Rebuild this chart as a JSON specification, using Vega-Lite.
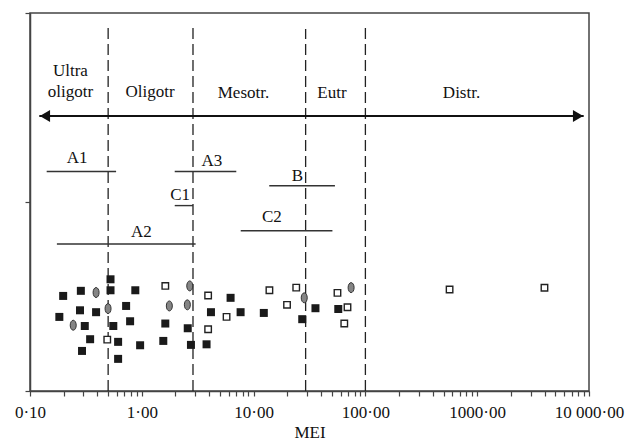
{
  "$schema": "https://vega.github.io/schema/vega-lite/v6.json",
  "width": 559,
  "height": 378,
  "autosize": {"type": "none"},
  "padding": {"left": 30, "top": 13, "right": 36, "bottom": 51},
  "background": "white",
  "config": {
    "view": {"stroke": "#444", "strokeWidth": 1.5},
    "axis": {"grid": false},
    "font": "Liberation Serif"
  },
  "datasets": {
    "zones": [
      {"mei": 0.5, "y": 0, "y2": 1.926},
      {"mei": 2.87, "y": 0, "y2": 1.947},
      {"mei": 29.2, "y": 0, "y2": 1.915},
      {"mei": 100, "y": 0, "y2": 1.926}
    ],
    "arrow": [
      {"mei": 0.1211, "mei2": 8965, "y": 1.455}
    ],
    "heads": [
      {"mei": 0.1361, "y": 1.455, "end": "left"},
      {"mei": 7980, "y": 1.455, "end": "right"}
    ],
    "ranges": [
      {"name": "A1", "mei": 0.141, "mei2": 0.589, "y": 1.161},
      {"name": "A3", "mei": 1.97, "mei2": 7.0, "y": 1.161},
      {"name": "B", "mei": 13.8, "mei2": 53.4, "y": 1.086},
      {"name": "C1", "mei": 1.97, "mei2": 2.87, "y": 0.981},
      {"name": "C2", "mei": 7.67, "mei2": 50.7, "y": 0.848},
      {"name": "A2", "mei": 0.174, "mei2": 3.03, "y": 0.778}
    ],
    "rangeLabels": [
      {"label": "A1", "mei": 0.2636, "y": 1.208},
      {"label": "A2", "mei": 0.99, "y": 0.816},
      {"label": "C1", "mei": 2.2, "y": 1.011},
      {"label": "A3", "mei": 4.234, "y": 1.192},
      {"label": "B", "mei": 24.7, "y": 1.113},
      {"label": "C2", "mei": 14.58, "y": 0.894}
    ],
    "zoneLabels": [
      {"label": "Ultra", "mei": 0.23, "y": 1.668},
      {"label": "oligotr", "mei": 0.23, "y": 1.553},
      {"label": "Oligotr", "mei": 1.187, "y": 1.553},
      {"label": "Mesotr.", "mei": 8.12, "y": 1.549},
      {"label": "Eutr", "mei": 50.2, "y": 1.549},
      {"label": "Distr.", "mei": 724, "y": 1.549}
    ],
    "points": [
      {"group": "g1", "mei": 0.198, "y": 0.503},
      {"group": "g1", "mei": 0.285, "y": 0.53},
      {"group": "g1", "mei": 0.525, "y": 0.591},
      {"group": "g1", "mei": 0.525, "y": 0.533},
      {"group": "g1", "mei": 0.875, "y": 0.533},
      {"group": "g1", "mei": 0.183, "y": 0.392},
      {"group": "g1", "mei": 0.28, "y": 0.427},
      {"group": "g1", "mei": 0.39, "y": 0.417},
      {"group": "g1", "mei": 0.724, "y": 0.45},
      {"group": "g1", "mei": 0.309, "y": 0.344},
      {"group": "g1", "mei": 0.556, "y": 0.344},
      {"group": "g1", "mei": 0.786, "y": 0.369},
      {"group": "g1", "mei": 0.345, "y": 0.274},
      {"group": "g1", "mei": 0.614, "y": 0.26},
      {"group": "g1", "mei": 0.292, "y": 0.212},
      {"group": "g1", "mei": 0.614, "y": 0.17},
      {"group": "g1", "mei": 0.966, "y": 0.242},
      {"group": "g1", "mei": 1.557, "y": 0.265},
      {"group": "g1", "mei": 1.623, "y": 0.357},
      {"group": "g1", "mei": 2.576, "y": 0.332},
      {"group": "g1", "mei": 2.752, "y": 0.244},
      {"group": "g1", "mei": 3.795, "y": 0.247},
      {"group": "g1", "mei": 4.156, "y": 0.417},
      {"group": "g1", "mei": 6.225, "y": 0.493},
      {"group": "g1", "mei": 7.65, "y": 0.417},
      {"group": "g1", "mei": 12.34, "y": 0.413},
      {"group": "g1", "mei": 27.23, "y": 0.38},
      {"group": "g1", "mei": 35.75, "y": 0.438},
      {"group": "g1", "mei": 57.2, "y": 0.434},
      {"group": "g2", "mei": 1.623, "y": 0.556},
      {"group": "g2", "mei": 3.92, "y": 0.505},
      {"group": "g2", "mei": 0.491, "y": 0.272},
      {"group": "g2", "mei": 3.92, "y": 0.327},
      {"group": "g2", "mei": 5.73, "y": 0.392},
      {"group": "g2", "mei": 13.85, "y": 0.533},
      {"group": "g2", "mei": 24.06, "y": 0.547},
      {"group": "g2", "mei": 19.91, "y": 0.456},
      {"group": "g2", "mei": 56.26, "y": 0.519},
      {"group": "g2", "mei": 69.16, "y": 0.443},
      {"group": "g2", "mei": 64.73, "y": 0.357},
      {"group": "g2", "mei": 566.2, "y": 0.537},
      {"group": "g2", "mei": 3996, "y": 0.546},
      {"group": "g3", "mei": 0.39, "y": 0.521},
      {"group": "g3", "mei": 0.499, "y": 0.436},
      {"group": "g3", "mei": 0.2436, "y": 0.348},
      {"group": "g3", "mei": 1.763, "y": 0.45},
      {"group": "g3", "mei": 2.555, "y": 0.456},
      {"group": "g3", "mei": 2.685, "y": 0.556},
      {"group": "g3", "mei": 28.38, "y": 0.493},
      {"group": "g3", "mei": 74.5, "y": 0.547}
    ]
  },
  "encoding": {
    "x": {
      "field": "mei",
      "type": "quantitative",
      "scale": {"type": "log", "domain": [0.1, 10000], "nice": false},
      "axis": {
        "title": "MEI",
        "titleFont": "Liberation Serif",
        "titleFontSize": 17,
        "titleFontWeight": "normal",
        "titleColor": "#111",
        "titleBaseline": "alphabetic",
        "titleY": 46,
        "values": [0.1, 0.2, 0.3, 0.4, 0.5, 0.6, 0.7, 0.8, 0.9, 1, 2, 3, 4, 5, 6, 7, 8, 9, 10, 20, 30, 40, 50, 60, 70, 80, 90, 100, 200, 300, 400, 500, 600, 700, 800, 900, 1000, 2000, 3000, 4000, 5000, 6000, 7000, 8000, 9000, 10000],
        "labelExpr": "datum.value == 0.1 ? '0·10' : datum.value == 1 ? '1·00' : datum.value == 10 ? '10·00' : datum.value == 100 ? '100·00' : datum.value == 1000 ? '1000·00' : datum.value == 10000 ? '10 000·00' : ''",
        "labelFont": "Liberation Serif",
        "labelFontSize": 17,
        "labelColor": "#111",
        "labelOverlap": false,
        "labelFlush": false,
        "labelPadding": 8,
        "tickSize": 5,
        "tickColor": "#444",
        "tickWidth": 1.2,
        "domainColor": "#444",
        "domainWidth": 1.5
      }
    },
    "y": {
      "field": "y",
      "type": "quantitative",
      "scale": {"domain": [0, 2], "nice": false},
      "axis": {
        "title": null,
        "values": [0, 1, 2],
        "labels": false,
        "tickSize": 5,
        "tickColor": "#444",
        "tickWidth": 1.2,
        "domainColor": "#444",
        "domainWidth": 1.5
      }
    }
  },
  "layer": [
    {
      "data": {"name": "zones"},
      "mark": {"type": "rule", "color": "#222", "strokeWidth": 1.3, "strokeDash": [11, 5]},
      "encoding": {"y2": {"field": "y2"}}
    },
    {
      "data": {"name": "arrow"},
      "mark": {"type": "rule", "color": "#111", "strokeWidth": 2},
      "encoding": {"x2": {"field": "mei2"}}
    },
    {
      "data": {"name": "heads"},
      "mark": {"type": "point", "filled": true, "color": "#111", "size": 140, "opacity": 1},
      "encoding": {
        "shape": {"field": "end", "type": "nominal", "scale": {"domain": ["left", "right"], "range": ["triangle-left", "triangle-right"]}, "legend": null}
      }
    },
    {
      "data": {"name": "ranges"},
      "mark": {"type": "rule", "color": "#333", "strokeWidth": 1.4},
      "encoding": {"x2": {"field": "mei2"}}
    },
    {
      "data": {"name": "rangeLabels"},
      "mark": {"type": "text", "font": "Liberation Serif", "fontSize": 17, "color": "#111", "align": "center", "baseline": "alphabetic"},
      "encoding": {"text": {"field": "label"}}
    },
    {
      "data": {"name": "zoneLabels"},
      "mark": {"type": "text", "font": "Liberation Serif", "fontSize": 17, "color": "#111", "align": "center", "baseline": "alphabetic"},
      "encoding": {"text": {"field": "label"}}
    },
    {
      "data": {"name": "points"},
      "transform": [{"filter": "datum.group == 'g1'"}],
      "mark": {"type": "point", "shape": "square", "filled": true, "color": "#1a1a1a", "size": 64, "opacity": 1}
    },
    {
      "data": {"name": "points"},
      "transform": [{"filter": "datum.group == 'g2'"}],
      "mark": {"type": "point", "shape": "square", "filled": false, "fill": "white", "stroke": "#222", "strokeWidth": 1.4, "size": 42, "opacity": 1, "fillOpacity": 1}
    },
    {
      "data": {"name": "points"},
      "transform": [{"filter": "datum.group == 'g3'"}],
      "mark": {"type": "point", "shape": "M -0.6 0 A 0.6 1 0 1 1 0.6 0 A 0.6 1 0 1 1 -0.6 0 Z", "filled": true, "fill": "#858585", "stroke": "#333", "strokeWidth": 1, "size": 100, "opacity": 1}
    }
  ]
}
